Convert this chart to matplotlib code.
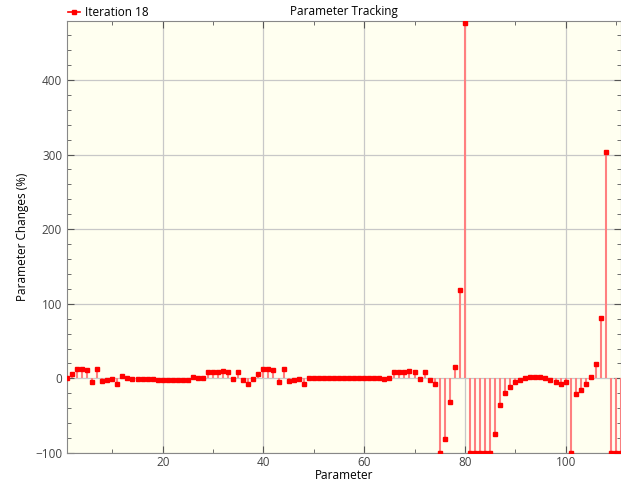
import matplotlib
matplotlib.use('Agg')
import matplotlib.pyplot as plt
import numpy as np
from matplotlib.ticker import MultipleLocator

plt.rcParams['font.family'] = ['Open Sans', 'DejaVu Sans']

# Parameter-Nummern und prozentuale Aenderungen (Iteration 18)
param = np.arange(1, 112)
change = [0, 6, 12, 13, 11, -5, 12, -3, -2, -1, -7, 3, 0, -1, -1, -1, -1, -1, -2, -2, -2, -2,
          -2, -2, -2, 2, 0, 1, 9, 9, 9, 10, 8, -1, 9, -2, -7, -1, 6, 12, 13, 11, -5, 12,
          -3, -2, -1, -7, 0, 0, 0, 0, 0, 0, 0, 0, 0, 0, 0, 0, 0, 0, 0, -1, 1, 9,
          9, 9, 10, 8, -1, 9, -2, -7, -100, -81, -32, 15, 119, 477, -100, -100, -100, -100, -100, -74, -35, -20,
          -11, -5, -1.5, 1, 2.5, 2.5, 2.5, 0.5, -2, -5.5, -7, -5.5, -100, -21, -15, -8, 2, 19, 81, 304, -100, -100, -100]
series_label = 'Iteration 18'

fig = plt.figure(figsize=(6.21, 4.83), dpi=100)
ax = fig.add_axes([0.1079, 0.0621, 0.8921, 0.8944])
ax.set_facecolor('#fffff0')

ax.vlines(param, 0, change, color='#ff8080', lw=1.5, zorder=2)
ax.plot(param, change, 's', color='red', ms=3.3, label=series_label, zorder=3)

ax.set_xlim(1, 111)
ax.set_ylim(-100, 479)
ax.xaxis.set_major_locator(MultipleLocator(20))
ax.xaxis.set_minor_locator(MultipleLocator(10))
ax.yaxis.set_major_locator(MultipleLocator(100))
ax.yaxis.set_minor_locator(MultipleLocator(20))
ax.tick_params(which='both', direction='in', top=True, right=True, colors='#555555',
               labelsize=8.5, labelcolor='#444444')
ax.tick_params(which='major', length=5)
ax.tick_params(which='minor', length=3)
ax.tick_params(axis='x', pad=2)
ax.grid(True, which='major', color='#c8c8c8', lw=0.9, zorder=0)
ax.set_axisbelow(True)
for s in ax.spines.values():
    s.set_color('#888888')

ax.set_title('Parameter Tracking', fontsize=8.5, pad=4)
ax.set_xlabel('Parameter', fontsize=8.5, labelpad=0)
ax.set_ylabel('Parameter Changes (%)', fontsize=8.5)

# Legende oben links ausserhalb der Achse
proxy, = ax.plot([], [], '-s', color='red', ms=3.3, lw=1.2)
fig.legend([proxy], [series_label], loc='upper left', bbox_to_anchor=(0.092, 1.01),
           frameon=False, fontsize=8.5, handlelength=1.0, handletextpad=0.5)

plt.savefig('out.png', dpi=100)
